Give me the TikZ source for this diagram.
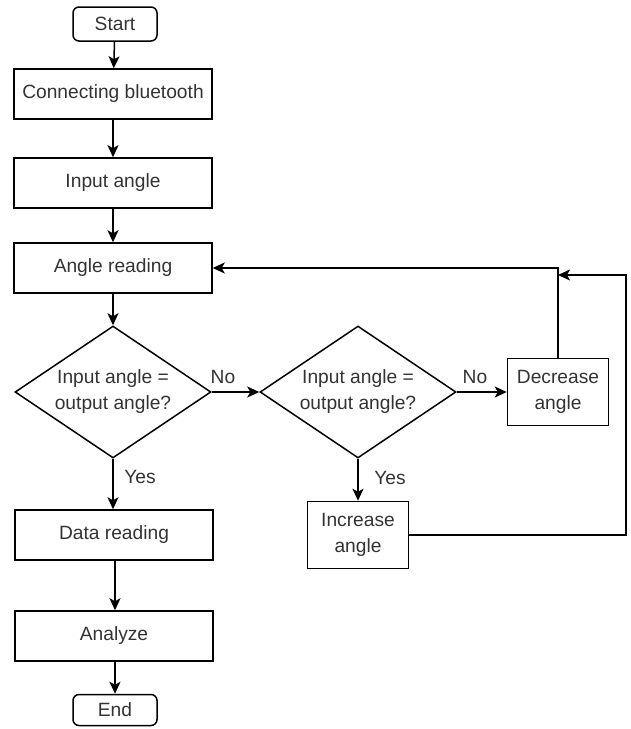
\documentclass[tikz,border=0pt]{standalone}
\usepackage{fontspec}
\setmainfont{Liberation Sans}
\usetikzlibrary{shapes.geometric,arrows.meta}
\begin{document}
\begin{tikzpicture}[x=1pt,y=-1pt,
  every node/.style={font=\fontsize{19.2}{26}\selectfont, text=black!80},
  box/.style={draw, line width=1.5pt, rectangle, minimum width=198pt, minimum height=50pt, inner sep=0pt},
  term/.style={draw, line width=1.5pt, rounded corners=6pt, minimum width=84pt, inner sep=0pt},
  dec/.style={draw, line width=1.5pt, diamond, aspect=1.5, minimum width=196pt, minimum height=132pt, inner sep=0pt, align=center},
  sbox/.style={draw, line width=1.5pt, rectangle, minimum width=101pt, minimum height=67pt, align=center, inner sep=0pt},
  arr/.style={line width=1.5pt, -{Stealth[length=12pt,width=11pt,inset=3pt]}},
  lbl/.style={inner sep=0pt}
]
\useasboundingbox (0,0) rectangle (630,729);
\node[term, minimum height=34pt] (start) at (115,24) {Start};
\node[box] (conn) at (113,94) {Connecting bluetooth};
\node[box] (inp) at (113,183) {Input angle};
\node[box] (ar) at (113,268) {Angle reading};
\node[dec] (d1) at (113,392) {Input angle =\\output angle?};
\node[box] (dr) at (114,535) {Data reading};
\node[box] (an) at (114,636) {Analyze};
\node[term, minimum height=31pt] (end) at (115,710) {End};
\node[dec] (d2) at (358,392) {Input angle =\\output angle?};
\node[sbox] (dec) at (558,392) {Decrease\\angle};
\node[sbox] (inc) at (358,535) {Increase\\angle};
\coordinate (far) at (626,535);
\coordinate (join) at (558,275);

\draw[arr] (start) -- (conn);
\draw[arr] (conn) -- (inp);
\draw[arr] (inp) -- (ar);
\draw[arr] (ar.south -| d1.north) -- (d1.north);
\draw[arr] (d1.south) -- (d1.south |- dr.north);
\draw[arr] (dr.south -| end.north) -- (end.north |- an.north);
\draw[arr] (an.south -| end.north) -- (end.north);
\draw[arr] (d1.east) -- (d2.west);
\draw[arr] (d2.east) -- (dec.west);
\draw[arr] (d2.south) -- (inc.north);
\draw[arr] (dec.north) |- (ar.east);
\draw[arr] (inc.east) -- (far) |- (join);

\node[lbl] (no1) at (223,377) {No};
\node[lbl] (no2) at (475,377) {No};
\node[lbl] (yes1) at (140,477) {Yes};
\node[lbl] (yes2) at (390,478) {Yes};
\end{tikzpicture}
\end{document}
